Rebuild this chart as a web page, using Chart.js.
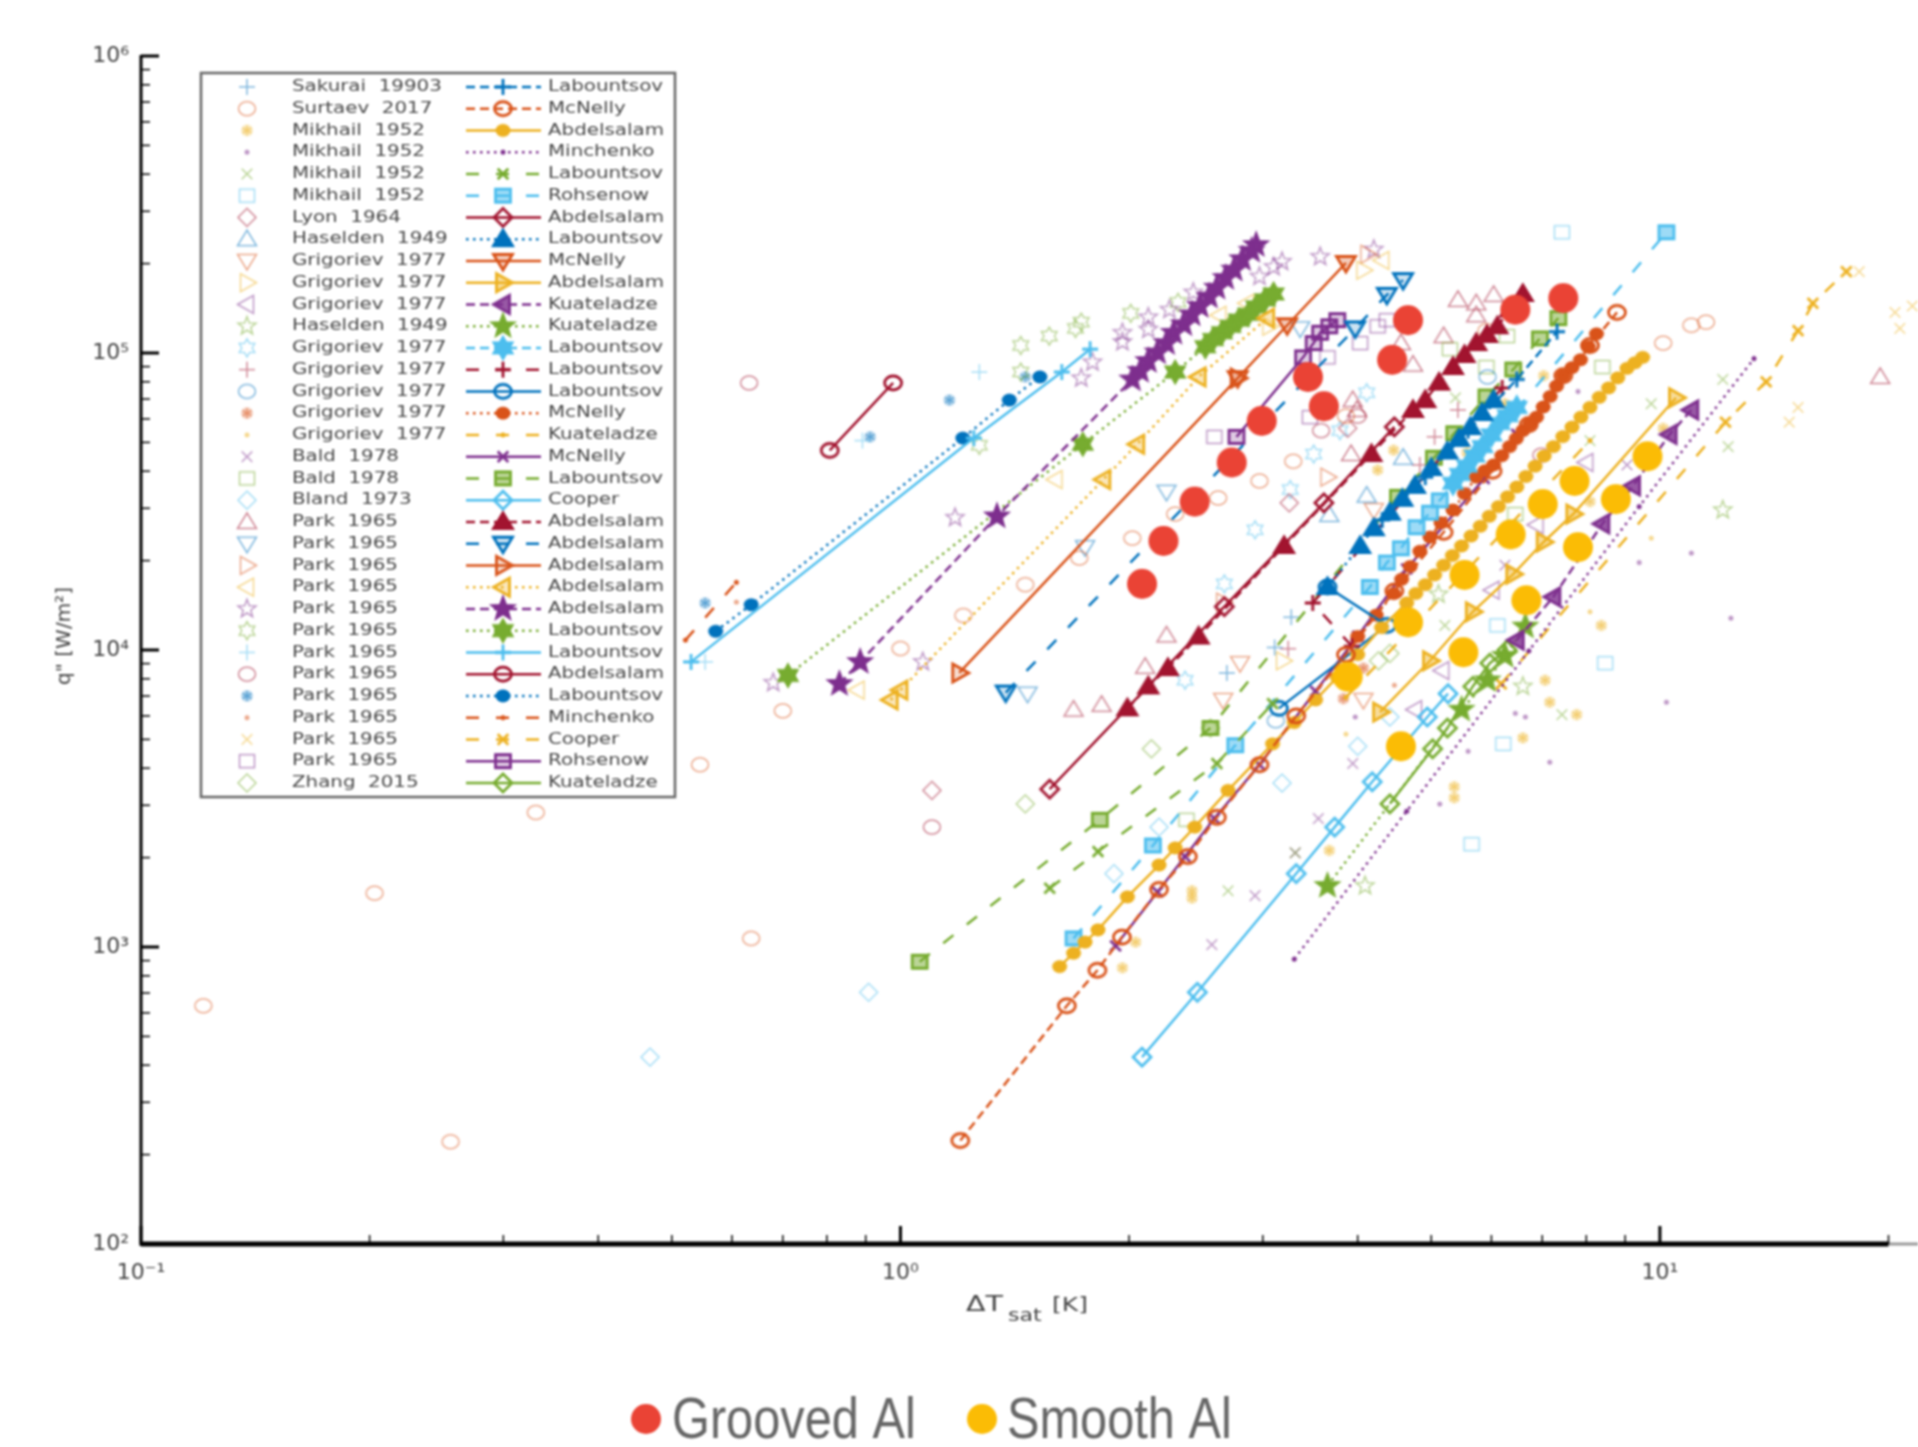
<!DOCTYPE html>
<html>
<head>
<meta charset="utf-8">
<style>
html,body{margin:0;padding:0;background:#fff;}
canvas{display:block;filter:blur(0.8px);}
</style>
<script src="https://cdn.jsdelivr.net/npm/chart.js@4/dist/chart.umd.min.js"></script>
</head>
<body>
<canvas id="c" width="1918" height="1447"></canvas>
<script>
// ---------- axis ticks ----------
const xTickValues = [0.1,0.2,0.3,0.4,0.5,0.6,0.7,0.8,0.9,1,2,3,4,5,6,7,8,9,10,20];
const xTickMajor  = [0.1,1,10];
const xTickLabels = ['10⁻¹','10⁰','10¹'];
const yTickValues = [100,200,300,400,500,600,700,800,900,1000,2000,3000,4000,5000,6000,7000,8000,9000,
                     10000,20000,30000,40000,50000,60000,70000,80000,90000,100000,200000,300000,400000,500000,600000,700000,800000,900000,1000000];
const yTickMajor  = [100,1000,10000,100000,1000000];
const yTickLabels = ['10²','10³','10⁴','10⁵','10⁶'];

// ---------- measured points [ΔT K, q W/m²] : this study ----------
const groovedAl = [[2.08,16700],[2.22,23300],[2.44,31600],[2.73,42800],[2.99,59100],[3.44,83100],[3.61,66200],[4.44,94900],[4.66,129000],[6.45,140000],[7.46,153000]];
const smoothAl  = [[3.88,8130],[4.66,12400],[5.51,9830],[4.56,4740],[5.53,17900],[6.36,24500],[6.67,14700],[7.01,31000],[7.80,22200],[7.72,37100],[8.75,32200],[9.63,44900]];

// ---------- experimental data (left legend column) ----------
const expLabels = ['Sakurai  19903','Surtaev  2017','Mikhail  1952','Mikhail  1952','Mikhail  1952','Mikhail  1952','Lyon  1964','Haselden  1949','Grigoriev  1977','Grigoriev  1977','Grigoriev  1977','Haselden  1949','Grigoriev  1977','Grigoriev  1977','Grigoriev  1977','Grigoriev  1977','Grigoriev  1977','Bald  1978','Bald  1978','Bland  1973','Park  1965','Park  1965','Park  1965','Park  1965','Park  1965','Park  1965','Park  1965','Park  1965','Park  1965','Park  1965','Park  1965','Park  1965','Zhang  2015'];
const e01 = [[3.27,12900],[2.69,8370],[3.11,10200]];
const e02 = [[0.1208,634],[0.203,1518],[0.2556,221],[0.331,2838],[0.5445,4110],[0.636,1069],[0.70,6240],[1.0,10120],[1.21,13070],[1.46,16600],[1.72,20400],[2.02,23800],[2.30,28700],[2.62,32500],[2.97,37100],[3.29,43200],[3.86,61300],[10.1,108000],[11.0,124000],[11.5,127000],[5.91,119000]];
const e03 = [[2.42,1461],[2.42,1547],[2.04,1039],[1.96,851],[3.67,2115],[8.37,12100],[7.06,7910],[7.16,6670],[7.77,6060],[6.60,5060],[5.36,3465],[5.36,3180],[4.25,40400],[4.46,47100],[5.57,46200],[7.03,83900],[6.25,67500],[8.09,31600],[10.1,55800]];
const e04 = [[7.16,4190],[6.45,6120],[6.65,5950],[5.59,4560],[5.13,3030],[3.97,5950],[10.2,6670],[11.0,21200],[12.4,12800],[5.59,34700],[7.80,74200],[9.39,19700]];
const e05 = [[2.70,1547],[3.31,2076],[5.21,12100],[7.43,6060],[5.38,70700],[8.09,50700],[9.74,67500],[12.1,81500],[12.3,48400]];
const e06 = [[8.47,9030],[5.65,2218],[7.43,255000],[6.22,4830],[6.11,12100]];
const e07 = [[1.10,3367],[3.25,31300],[3.88,55800]];
const e08 = [[4.59,44400],[4.11,33100],[3.67,28500]];
const e09 = [[2.80,9030],[2.66,6790],[4.07,6790],[4.20,29600]];
const e10 = [[3.06,123000],[4.07,190000],[3.19,9200]];
const e11 = [[4.76,6300],[5.17,8530],[6.02,15900],[8.00,42800],[6.88,26400]];
const e12 = [[5.11,15400],[6.60,7540],[4.09,1607],[12.1,29600]];
const e13 = [[2.93,25400],[2.67,16700],[3.26,34700],[3.50,45700],[3.79,54800],[4.11,73500],[2.37,7910]];
const e14 = [[3.24,10100],[4.83,42000],[5.05,52200],[5.42,64300]];
const e15 = [[3.12,5780],[5.93,83100]];
const e16 = [[3.83,6860],[4.07,8690]];
const e17 = [[3.86,5210],[8.09,13450],[9.74,23800]];
const e18 = [[2.57,1019],[2.93,1490],[3.55,2707],[3.94,4150],[3.31,2076],[6.25,19300],[9.05,42000]];
const e19 = [[2.38,2681],[6.45,28700],[6.29,114000],[5.91,89700],[5.29,103000],[8.40,89700]];
const e20 = [[0.468,426],[0.908,704],[3.18,3565],[4.00,4740],[1.91,1767],[2.19,2533],[4.41,5950]];
const e21 = [[1.69,6300],[1.84,6540],[2.10,8780],[2.24,11200],[3.94,69400],[3.99,64300],[3.92,45700],[5.42,151000],[5.19,114000],[5.73,147000],[6.04,157000],[5.73,134000],[19.5,83100],[4.73,91400],[4.56,108000]];
const e22 = [[1.47,7130],[2.24,34100],[3.36,121000],[1.75,22200]];
const e23 = [[4.12,215000],[2.66,14500],[3.65,38200]];
const e24 = [[0.878,7330],[1.60,37500],[2.63,134000],[2.86,147000],[4.31,205000]];
const e25 = [[0.68,7760],[1.07,9120],[1.18,27900],[1.73,82300],[1.79,93100],[1.96,117000],[1.96,109000],[2.12,132000],[2.12,120000],[2.26,140000],[2.43,160000],[3.57,211000],[4.20,223000],[2.97,181000],[3.10,195000],[3.18,203000]];
const e26 = [[1.44,106000],[1.57,114000],[1.70,121000],[1.73,127000],[2.01,136000],[1.44,86300],[1.27,48900],[2.32,148000]];
const e27 = [[0.553,9120],[0.891,50700],[1.27,86300]];
const e28 = [[0.632,79300],[1.10,2533],[3.58,54800],[4.00,61300],[6.98,45300]];
const e29 = [[0.553,14400],[0.912,52200],[1.16,69400],[1.46,83100]];
const e30 = [[0.608,14500],[4.47,7610]];
const e31 = [[14.8,58500],[15.2,65600],[18.3,188000],[20.7,121000],[21.5,144000],[20.4,137000]];
const e32 = [[2.59,52200],[3.65,96700],[3.46,60800],[4.03,108000],[4.25,123000],[4.37,129000]];
const e33 = [[1.46,3034],[2.14,4650],[2.56,5460],[4.26,9200],[4.41,9740]];

// ---------- correlations (right legend column) ----------
const corrLabels = ['Labountsov','McNelly','Abdelsalam','Minchenko','Labountsov','Rohsenow','Abdelsalam','Labountsov','McNelly','Abdelsalam','Kuateladze','Kuateladze','Labountsov','Labountsov','Labountsov','McNelly','Kuateladze','McNelly','Labountsov','Cooper','Abdelsalam','Abdelsalam','Abdelsalam','Abdelsalam','Abdelsalam','Labountsov','Labountsov','Abdelsalam','Labountsov','Minchenko','Cooper','Rohsenow','Kuateladze'];
const c01 = [[4.31,27400],[4.91,38200],[5.59,54800],[6.48,81500],[7.32,118000]];
const c02 = [[1.199,223],[1.656,634],[1.817,835],[1.957,1080],[2.19,1562],[2.39,2017],[2.61,2733],[2.97,4110],[3.32,6000],[3.86,9650],[4.47,15800],[5.19,24900],[6.02,40000],[6.72,57400],[7.46,83900],[8.09,106000],[8.78,137000]];
const c03 = [[1.62,859],[1.69,953],[1.75,1039],[1.82,1142],[1.99,1475],[2.19,1888],[2.30,2156],[2.44,2533],[2.70,3367],[3.09,4830],[3.30,5700],[3.52,6790],[3.76,8100],[4.00,9650],[4.30,11900],[4.64,14400],[4.77,15500],[4.91,16600],[5.05,17900],[5.19,19300],[5.33,20800],[5.48,22400],[5.64,24200],[5.80,26100],[5.96,28200],[6.13,30400],[6.30,32800],[6.48,35400],[6.66,38400],[6.85,41600],[7.04,45000],[7.24,48400],[7.45,52300],[7.66,56300],[7.87,60800],[8.09,65600],[8.32,70900],[8.56,76300],[8.80,82500],[9.05,88800],[9.27,92700],[9.49,96700]];
const c04 = [[3.30,910],[4.64,2866],[6.72,9930],[9.39,30400],[13.3,95800]];
const c05 = [[1.572,1577],[1.82,2096],[2.61,4148],[3.09,6600]];
const c06 = [[1.69,1069],[2.15,2197],[2.76,4780],[4.15,16300],[4.37,19700],[4.56,22000],[4.78,25900],[4.98,29000],[5.13,31900],[10.2,255000]];
const c07 = [[1.572,3400],[2.67,14000],[3.61,31300],[4.47,56400]];
const c08 = [[3.65,16300],[4.03,22400],[4.20,25700],[4.41,29000],[4.58,32300],[4.76,35700],[5.00,41000],[5.25,46600],[5.44,51400],[5.63,56300],[5.83,62800],[6.04,69400]];
const c09 = [[2.78,82300],[3.23,124000],[3.86,201000]];
const c10 = [[4.28,6180],[4.98,9200],[5.67,13450],[6.41,18000],[7.03,23100],[7.69,28700],[10.5,70700]];
const c11 = [[6.48,10800],[7.24,15100],[8.40,26600],[9.22,35700],[10.3,53200],[11.0,64300]];
const c12 = [[3.65,1607],[5.48,6300],[5.93,7910],[6.25,9560],[6.65,12000]];
const c13 = [[5.34,36400],[5.45,39000],[5.57,41600],[5.70,45000],[5.84,48400],[6.00,53000],[6.15,57900],[6.30,61500],[6.48,65600]];
const c14 = [[3.93,10300],[3.49,14400],[6.20,76300]];
const c15 = [[3.65,16300],[4.37,12100],[3.15,6360]];
const c16 = [[4.00,11100],[4.23,13100],[4.46,15500],[4.57,17300],[4.69,19100],[4.83,21500],[4.98,24000],[5.15,26800],[5.34,29600],[5.53,33600],[5.73,38200],[5.88,40100],[6.04,42000],[6.19,45100],[6.34,48400],[6.47,51500],[6.60,54800],[6.74,57700],[6.88,60800],[7.02,65800],[7.17,71400],[7.31,77400],[7.46,83900],[7.66,89300],[7.86,94900],[8.05,105000],[8.25,116000]];
const c17 = [[3.86,6930],[8.09,50700]];
const c18 = [[1.92,1009],[2.18,1532],[2.37,2017],[2.59,2707],[2.97,4110],[3.52,7260],[4.00,11120],[4.64,18750],[5.87,37800],[6.48,53200]];
const c19 = [[1.06,892],[1.83,2681],[2.56,5463],[4.52,32800],[5.04,44400],[5.36,53700],[5.91,71400],[6.41,88000],[6.95,112000],[7.35,131000]];
const c20 = [[2.08,426],[2.46,704],[3.32,1767],[3.73,2533],[4.18,3600],[4.94,5950],[5.26,7130]];
const c21 = [[1.99,6360],[2.12,7540],[2.25,8690],[2.47,11100],[3.20,22400],[4.17,45700],[4.73,64300],[4.91,69400],[5.12,79500],[5.34,89700],[5.53,98500],[5.73,108000],[5.92,115000],[6.11,123000],[6.35,140000],[6.60,158000]];
const c22 = [[1.376,7190],[3.97,121000],[4.37,157000],[4.59,176000]];
const c23 = [[1.195,8370],[2.78,82300]];
const c24 = [[0.971,6790],[1.0,7330],[1.85,37500],[2.05,49300],[2.47,83100],[3.04,131000]];
const c25 = [[0.831,7690],[0.885,9120],[1.340,28200],[2.02,81500],[2.07,87100],[2.12,94000],[2.18,100500],[2.24,108000],[2.29,117000],[2.36,125000],[2.42,135000],[2.48,144000],[2.55,155000],[2.61,166000],[2.68,179000],[2.75,191000],[2.82,207000],[2.90,221000],[2.94,231000]];
const c26 = [[0.711,8210],[1.738,49300],[2.30,86300],[2.52,105000],[2.58,111000],[2.65,117000],[2.72,123000],[2.79,129000],[2.87,135000],[2.94,143000],[3.02,151000],[3.10,158000]];
const c27 = [[0.530,9120],[1.249,51700],[1.631,86300],[1.777,103000]];
const c28 = [[0.807,47000],[0.978,79300]];
const c29 = [[0.571,11560],[0.636,14200],[1.208,51700],[1.391,69400],[1.526,83100]];
const c30 = [[0.521,10800],[0.608,16900]];
const c31 = [[6.18,7690],[12.2,58500],[13.8,80000],[15.2,119000],[15.9,147000],[17.6,188000]];
const c32 = [[2.77,52200],[3.39,96700],[3.50,108000],[3.57,117000],[3.67,123000],[3.76,129000]];
const c33 = [[4.41,3034],[5.02,4650],[5.25,5460],[5.67,7540],[5.97,9030],[6.29,10000]];

const expData  = [e01,e02,e03,e04,e05,e06,e07,e08,e09,e10,e11,e12,e13,e14,e15,e16,e17,e18,e19,e20,e21,e22,e23,e24,e25,e26,e27,e28,e29,e30,e31,e32,e33];
const corrData = [c01,c02,c03,c04,c05,c06,c07,c08,c09,c10,c11,c12,c13,c14,c15,c16,c17,c18,c19,c20,c21,c22,c23,c24,c25,c26,c27,c28,c29,c30,c31,c32,c33];

// ---------- per-row style ----------
const BL='#0072BD',OR='#D95319',YE='#EDB120',PU='#7E2F8E',GR='#77AC30',CY='#4DBEEE',RE='#A2142F';
const rowColors = [BL,OR,YE,PU,GR,CY,RE,BL,OR,YE,PU,GR,CY,RE,BL,OR,YE,PU,GR,CY,RE,BL,OR,YE,PU,GR,CY,RE,BL,OR,YE,PU,GR];
const rowShapes = ['plus','circle','ast','dot','x','rect','diamond','triU','triD','triR','triL','star','hex','plus','circle','ast','dot','x','rect','diamond','triU','triD','triR','triL','star','hex','plus','circle','ast','dot','x','rect','diamond'];
const DASH={s:[],d:[9,5],w:[13,17],o:[2.5,4.5]};
const corrDash  = ['d','d','s','o','w','w','s','o','s','s','d','o','d','w','s','o','w','s','w','s','d','w','s','o','d','o','s','s','o','w','w','s','s'];
const corrFill  = [0,0,1,1,0,.55,0,1,.3,.45,.8,1,1,0,0,1,1,0,.5,0,1,.2,.2,.3,1,1,0,0,1,1,0,.25,0];

function makeMarker(shape,color,alpha,fill,lw,k,solidAst){
  const S=36,c=document.createElement('canvas');c.width=S;c.height=S;
  const g=c.getContext('2d');g.translate(S/2,S/2);g.scale(k,k);g.globalAlpha=alpha;g.strokeStyle=color;g.fillStyle=color;g.lineWidth=lw/k;g.lineJoin='miter';
  const poly=(pts)=>{g.beginPath();pts.forEach((p,i)=>i?g.lineTo(p[0],p[1]):g.moveTo(p[0],p[1]));g.closePath();};
  const rays=(n,r,a0)=>{g.beginPath();for(let i=0;i<n;i++){const a=a0+i*Math.PI/n;g.moveTo(Math.cos(a)*r,Math.sin(a)*r);g.lineTo(-Math.cos(a)*r,-Math.sin(a)*r);}g.stroke();};
  const starPts=(n,R,r)=>{const p=[];for(let i=0;i<n*2;i++){const a=-Math.PI/2+i*Math.PI/n,q=i%2?r:R;p.push([Math.cos(a)*q,Math.sin(a)*q]);}return p;};
  const paint=()=>{if(fill){g.globalAlpha=alpha*fill;g.fill();g.globalAlpha=alpha;}g.stroke();};
  switch(shape){
    case 'plus': rays(2,8,0);break;
    case 'x': rays(2,7.5,Math.PI/4);break;
    case 'circle': g.beginPath();g.ellipse(0,0,8.5,7,0,0,7);paint();break;
    case 'rect': poly([[-7.5,-6.5],[7.5,-6.5],[7.5,6.5],[-7.5,6.5]]);paint();break;
    case 'diamond': poly([[0,-9],[9,0],[0,9],[-9,0]]);paint();break;
    case 'triU': poly([[0,-9],[9.5,6.5],[-9.5,6.5]]);paint();break;
    case 'triD': poly([[0,9],[9.5,-6.5],[-9.5,-6.5]]);paint();break;
    case 'triR': poly([[9.5,0],[-6.5,-9],[-6.5,9]]);paint();break;
    case 'triL': poly([[-9.5,0],[6.5,-9],[6.5,9]]);paint();break;
    case 'star': poly(starPts(5,9.5,4));paint();break;
    case 'hex': poly(starPts(6,9,5.2));paint();break;
    case 'ast':
      if(solidAst){g.beginPath();g.ellipse(0,0,7.5,6.5,0,0,7);g.fill();}
      else{g.globalAlpha=alpha*0.55;g.beginPath();g.arc(0,0,6,0,7);g.fill();g.globalAlpha=alpha;rays(3,5,Math.PI/2);}
      break;
    case 'dot': g.beginPath();g.arc(0,0,2.5,0,7);g.fill();break;
  }
  return c;
}
function solidDot(color,r){const S=2*r+4,c=document.createElement('canvas');c.width=S;c.height=S;const g=c.getContext('2d');g.fillStyle=color;g.beginPath();g.arc(S/2,S/2,r,0,7);g.fill();return c;}

const expMarkers  = rowShapes.map((s,i)=>makeMarker(s,rowColors[i],0.5,0,1.5,1,false));
const corrMarkers = rowShapes.map((s,i)=>makeMarker(s,rowColors[i],1,corrFill[i],2.8,(s==='star'||s==='hex')?1.15:1,true));

const toXY = a=>a.map(p=>({x:p[0],y:p[1]}));
const datasets = [];
datasets.push({label:'Grooved Al',data:toXY(groovedAl),pointStyle:solidDot('#EA4335',15),pointRadius:15,showLine:false,order:0});
datasets.push({label:'Smooth Al',data:toXY(smoothAl),pointStyle:solidDot('#FBBC05',15),pointRadius:15,showLine:false,order:1});
corrData.forEach((d,i)=>datasets.push({label:corrLabels[i],data:toXY(d),showLine:true,borderColor:rowColors[i],borderWidth:2.5,
  borderDash:DASH[corrDash[i]],pointStyle:corrMarkers[i],pointRadius:8,tension:0,order:2}));
expData.forEach((d,i)=>datasets.push({label:expLabels[i],data:toXY(d),showLine:false,pointStyle:expMarkers[i],pointRadius:8,order:3}));

const overlay = {
  id:'overlay',
  afterDatasetsDraw(chart){
    const ctx=chart.ctx,X=chart.scales.x,Y=chart.scales.y;
    const x0=X.getPixelForValue(0.1),xEnd=X.getPixelForValue(20),yB=Y.getPixelForValue(100),yT=Y.getPixelForValue(1e6);
    ctx.save();
    // axes
    ctx.strokeStyle='#000';
    ctx.lineWidth=3;ctx.beginPath();ctx.moveTo(x0,yT-1);ctx.lineTo(x0,yB+2);ctx.stroke();
    ctx.strokeStyle='#999';ctx.lineWidth=3;ctx.beginPath();ctx.moveTo(xEnd,yB);ctx.lineTo(1918,yB);ctx.stroke();
    ctx.strokeStyle='#000';ctx.lineWidth=5;ctx.beginPath();ctx.moveTo(x0,yB);ctx.lineTo(xEnd,yB);ctx.stroke();
    xTickValues.forEach(v=>{const p=X.getPixelForValue(v),maj=xTickMajor.includes(v);ctx.lineWidth=maj?3:1.5;ctx.beginPath();ctx.moveTo(p,yB);ctx.lineTo(p,yB-(maj?18:9));ctx.stroke();});
    yTickValues.forEach(v=>{const p=Y.getPixelForValue(v),maj=yTickMajor.includes(v);ctx.lineWidth=maj?3:1.5;ctx.beginPath();ctx.moveTo(x0,p);ctx.lineTo(x0+(maj?18:9),p);ctx.stroke();});
    // axis titles
    ctx.fillStyle='#444';ctx.textBaseline='alphabetic';ctx.textAlign='left';
    const piece=(t,lx,ly,size,sx)=>{ctx.save();ctx.translate(lx,ly);ctx.scale(sx,1);ctx.font=size+'px "DejaVu Sans"';ctx.fillText(t,0,0);ctx.restore();};
    piece('ΔT',966,1311,22,1.3);
    piece('sat',1008,1321,17,1.3);
    piece('[K]',1052,1311,20,1.25);
    ctx.save();ctx.font='20px "DejaVu Sans"';ctx.translate(70,636);ctx.rotate(-Math.PI/2);ctx.textAlign='center';ctx.fillText('q" [W/m²]',0,0);ctx.restore();
    // correlation / data legend
    const bx=201,by=73,bw=474,bh=724,rowH=21.75,row0=86.9;
    ctx.fillStyle='#fff';ctx.fillRect(bx,by,bw,bh);
    ctx.strokeStyle='#666';ctx.lineWidth=2.5;ctx.strokeRect(bx,by,bw,bh);
    expLabels.forEach((t,i)=>{
      const y=row0+i*rowH;
      ctx.drawImage(expMarkers[i],247-18,y-18);
      const line=(label,lx)=>{ctx.save();ctx.translate(lx,y);ctx.scale(1.24,1);ctx.font='16px "DejaVu Sans"';ctx.fillStyle='#484848';ctx.textBaseline='middle';ctx.textAlign='left';ctx.fillText(label,0,0);ctx.restore();};
      line(t,292);
      ctx.save();ctx.strokeStyle=rowColors[i];ctx.lineWidth=2.5;ctx.setLineDash(DASH[corrDash[i]]);
      ctx.beginPath();ctx.moveTo(466,y);ctx.lineTo(541,y);ctx.stroke();ctx.restore();
      ctx.drawImage(corrMarkers[i],503-18,y-18);
      line(corrLabels[i],548);
    });
    // study legend
    ctx.fillStyle='#EA4335';ctx.beginPath();ctx.arc(646,1419,15,0,7);ctx.fill();
    ctx.fillStyle='#FBBC05';ctx.beginPath();ctx.arc(982,1419,15,0,7);ctx.fill();
    const big=(t,lx)=>{ctx.save();ctx.translate(lx,1438);ctx.scale(0.84,1);ctx.font='58px "Liberation Sans"';ctx.fillStyle='#666';ctx.textAlign='left';ctx.textBaseline='alphabetic';ctx.fillText(t,0,0);ctx.restore();};
    big('Grooved Al',672);big('Smooth Al',1007);
    ctx.restore();
  }
};

new Chart(document.getElementById('c'),{
  type:'scatter',
  data:{datasets},
  plugins:[overlay],
  options:{
    responsive:false,animation:false,
    layout:{autoPadding:false,padding:{top:56,right:0,bottom:0,left:0}},
    plugins:{legend:{display:false},tooltip:{enabled:false},title:{display:false}},
    scales:{
      x:{type:'logarithmic',min:0.1,max:21.87,
        afterBuildTicks:s=>{s.ticks=xTickValues.map(v=>({value:v,major:xTickMajor.includes(v)}));},
        afterFit:s=>{s.height=203;},
        grid:{display:false,drawTicks:false},border:{display:false},
        ticks:{autoSkip:false,maxRotation:0,minRotation:0,padding:16,color:'#444',font:{family:'DejaVu Sans',size:22},
          callback:v=>{const i=xTickMajor.indexOf(v);return i>=0?xTickLabels[i]:'';}}},
      y:{type:'logarithmic',min:100,max:1000000,
        afterBuildTicks:s=>{s.ticks=yTickValues.map(v=>({value:v,major:yTickMajor.includes(v)}));},
        afterFit:s=>{s.width=141;},
        grid:{display:false,drawTicks:false},border:{display:false},
        ticks:{autoSkip:false,padding:12,color:'#444',font:{family:'DejaVu Sans',size:22},
          callback:v=>{const i=yTickMajor.indexOf(v);return i>=0?yTickLabels[i]:'';}}}
    }
  }
});
</script>
</body>
</html>
